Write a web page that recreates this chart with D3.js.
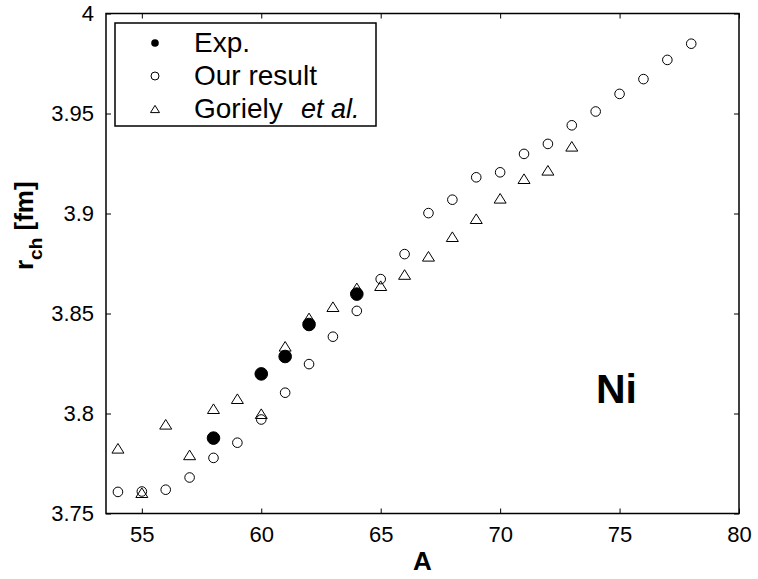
<!DOCTYPE html>
<html>
<head>
<meta charset="utf-8">
<script src="https://cdn.jsdelivr.net/npm/d3@7"></script>
<style>
  html, body { margin: 0; padding: 0; background: #fff; }
  svg { display: block; }
  text { font-family: "Liberation Sans", Arial, Helvetica, sans-serif; }
</style>
</head>
<body>
<svg id="chart" width="758" height="579"></svg>
<script>
// ---- data ----
const expA = [58, 60, 61, 62, 64];
const expR = [3.7877, 3.8198, 3.8285, 3.8445, 3.8597];

const ourA = [54, 55, 56, 57, 58, 59, 60, 61, 62, 63, 64, 65, 66, 67, 68, 69, 70, 71, 72, 73, 74, 75, 76, 77, 78];
const ourR = [3.7608, 3.7610, 3.7619, 3.7680, 3.7778, 3.7854, 3.7970, 3.8104, 3.8247, 3.8384, 3.8513, 3.8672, 3.8797, 3.9002, 3.9069, 3.9181, 3.9206, 3.9298, 3.9348, 3.9441, 3.9510, 3.9598, 3.9672, 3.9768, 3.9849];

const gorA = [54, 55, 56, 57, 58, 59, 60, 61, 62, 63, 64, 65, 66, 67, 68, 69, 70, 71, 72, 73];
const gorR = [3.7826, 3.7604, 3.7946, 3.7793, 3.8024, 3.8074, 3.7999, 3.8336, 3.8478, 3.8534, 3.8628, 3.8639, 3.8695, 3.8786, 3.8884, 3.8974, 3.9076, 3.9174, 3.9216, 3.9336];

const xTicks = [55, 60, 65, 70, 75, 80];
const yTicks = [3.75, 3.8, 3.85, 3.9, 3.95, 4];
const yTickLabels = ["3.75", "3.8", "3.85", "3.9", "3.95", "4"];
const legendLabels = ["Exp.", "Our result", "Goriely"];

// ---- layout ----
const svg = d3.select("#chart");
const L = 106, R = 739, T = 13.5, B = 513.5;
const x = d3.scaleLinear().domain([53.5, 80]).range([L, R]);
const y = d3.scaleLinear().domain([3.75, 4.0]).range([B, T]);

const tickLen = 5;
const font = "'Liberation Sans', Arial, Helvetica, sans-serif";

// bottom axis
const gx = svg.append("g").attr("transform", `translate(0,${B})`)
  .call(d3.axisBottom(x).tickValues(xTicks).tickSize(-tickLen).tickPadding(13).tickFormat(d3.format("d")));
// top axis
const gxt = svg.append("g").attr("transform", `translate(0,${T})`)
  .call(d3.axisTop(x).tickValues(xTicks).tickSize(-tickLen).tickFormat(""));
// left axis
const gy = svg.append("g").attr("transform", `translate(${L},0)`)
  .call(d3.axisLeft(y).tickValues(yTicks).tickSize(-tickLen).tickPadding(12).tickFormat((d, i) => yTickLabels[i]));
// right axis
const gyr = svg.append("g").attr("transform", `translate(${R},0)`)
  .call(d3.axisRight(y).tickValues(yTicks).tickSize(-tickLen).tickFormat(""));

[gx, gxt, gy, gyr].forEach(g => {
  g.select(".domain").remove();
  g.selectAll(".tick line").attr("stroke", "#000").attr("stroke-width", 1);
  g.selectAll(".tick text").attr("fill", "#000").style("font-family", font).style("font-size", "22px");
});

// box frame
svg.append("rect").attr("x", L).attr("y", T).attr("width", R - L).attr("height", B - T)
  .attr("fill", "none").attr("stroke", "#000").attr("stroke-width", 1.5);

// axis labels
svg.append("text").attr("x", (L + R) / 2).attr("y", 570).attr("text-anchor", "middle")
  .style("font-size", "26px").style("font-weight", "bold").text("A");

const yl = svg.append("text").attr("transform", "translate(33,270) rotate(-90)")
  .attr("text-anchor", "start").style("font-size", "26px").style("font-weight", "bold");
yl.append("tspan").text("r");
yl.append("tspan").attr("dy", 9).style("font-size", "19px").text("ch");
yl.append("tspan").attr("dy", -9).text(" [fm]");

// Ni label
svg.append("text").attr("x", 596).attr("y", 403)
  .style("font-size", "41px").style("font-weight", "bold").text("Ni");

// ---- marks ----
const tri = s => `M0,${-s * 0.8}L${s},${s * 0.8}L${-s},${s * 0.8}Z`;

svg.append("g").selectAll("circle").data(ourA.map((a, i) => [a, ourR[i]])).join("circle")
  .attr("cx", d => x(d[0])).attr("cy", d => y(d[1])).attr("r", 4.8)
  .attr("fill", "none").attr("stroke", "#000").attr("stroke-width", 1);

svg.append("g").selectAll("path").data(gorA.map((a, i) => [a, gorR[i]])).join("path")
  .attr("transform", d => `translate(${x(d[0])},${y(d[1])})`).attr("d", tri(6))
  .attr("fill", "none").attr("stroke", "#000").attr("stroke-width", 1);

svg.append("g").selectAll("circle").data(expA.map((a, i) => [a, expR[i]])).join("circle")
  .attr("cx", d => x(d[0])).attr("cy", d => y(d[1])).attr("r", 6.3)
  .attr("fill", "#000").attr("stroke", "#000").attr("stroke-width", 1);

// ---- legend ----
const lg = svg.append("g");
lg.append("rect").attr("x", 115).attr("y", 23).attr("width", 261).attr("height", 103)
  .attr("fill", "#fff").attr("stroke", "#000").attr("stroke-width", 1.5);
const rows = [43, 76, 109];
lg.append("circle").attr("cx", 155).attr("cy", rows[0]).attr("r", 3.8).attr("fill", "#000");
lg.append("circle").attr("cx", 155).attr("cy", rows[1]).attr("r", 4).attr("fill", "none").attr("stroke", "#000").attr("stroke-width", 1);
lg.append("path").attr("transform", `translate(155,${rows[2]})`).attr("d", tri(4.5))
  .attr("fill", "none").attr("stroke", "#000").attr("stroke-width", 1);
legendLabels.forEach((t, i) => {
  const tx = lg.append("text").attr("x", 194).attr("y", rows[i] + 9).style("font-size", "28px").text(t);
  if (i === 2) {
    tx.append("tspan").attr("x", 301).style("font-style", "italic").style("font-size", "27px").text("et al.");
  }
});
</script>
</body>
</html>
